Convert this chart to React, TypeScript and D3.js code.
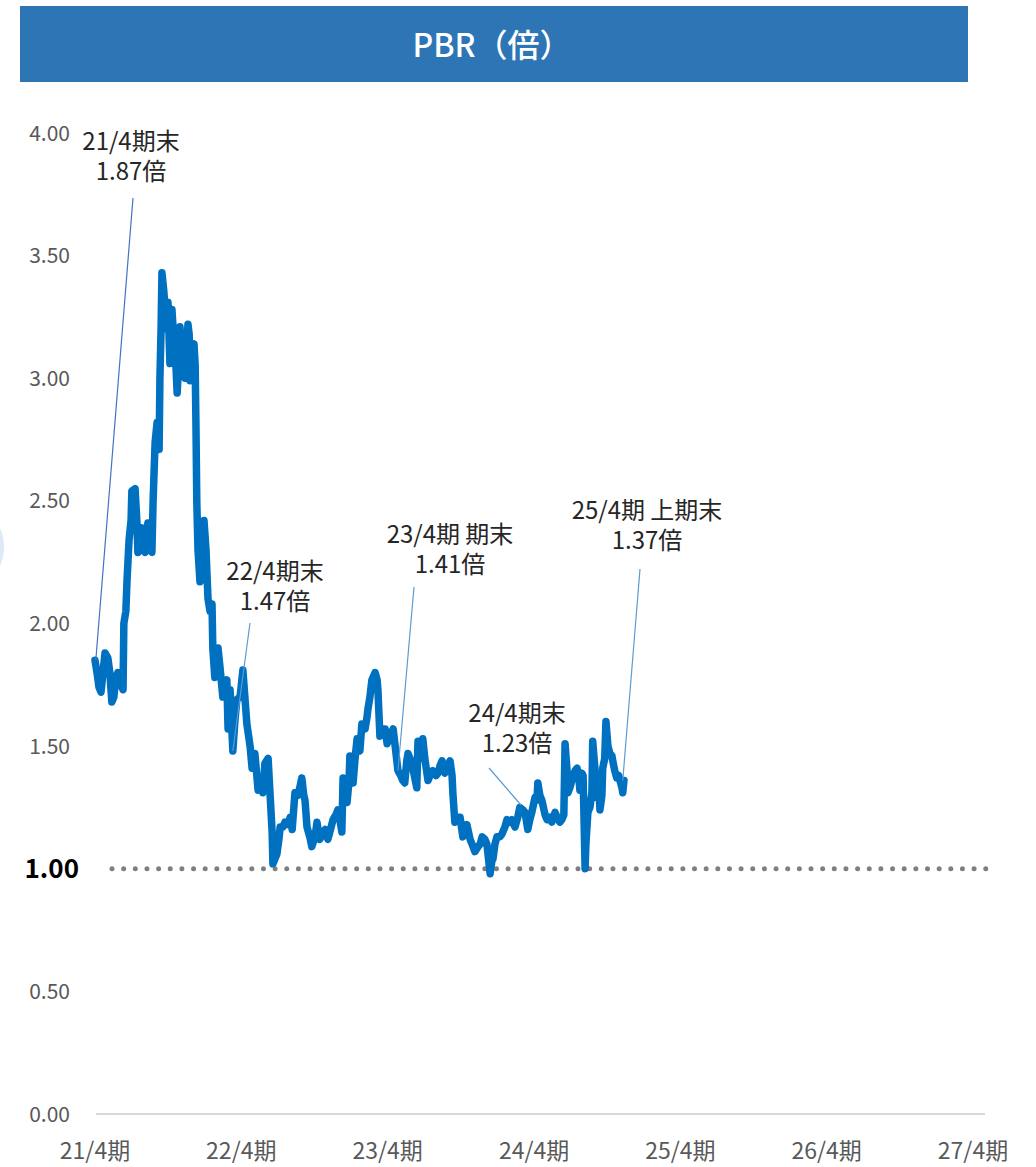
import React from "react";
import * as d3 from "d3";

// ---- data ----
const startDate = new Date(2021, 3, 30);
// days since end of 21/4期
const pbrDays = [
  0, 5, 10, 15, 20, 25, 32, 37, 42, 47, 52, 57, 65, 70, 72, 77, 80, 85, 90, 92, 100, 105, 107, 112, 117, 120, 125, 130, 132, 137, 142, 145, 150, 155, 160, 162, 165, 167, 172, 175, 180, 182, 187, 192, 197, 202, 205, 210, 212, 217, 220, 225, 232, 235, 237, 242, 247, 250, 252, 254, 257, 262, 267, 272, 277, 282, 287, 292, 294, 299, 307, 312, 319, 324, 329, 332, 337, 344, 349, 354, 362, 369, 374, 379, 387, 392, 399, 407, 414, 419, 424, 432, 437, 442, 444, 449, 454, 459, 462, 469, 474, 482, 487, 492, 499, 506, 511, 516, 521, 524, 529, 536, 541, 549, 554, 559, 561, 569, 574, 581, 586, 594, 601, 606, 611, 616, 619, 624, 629, 634, 636, 641, 644, 649, 654, 661, 666, 674, 679, 681, 686, 691, 699, 704, 706, 711, 716, 724, 729, 736, 744, 749, 756, 763, 768, 773, 778, 781, 786, 791, 798, 803, 806, 811, 816, 818, 823, 831, 836, 843, 851, 856, 861, 866, 871, 873, 878, 886, 891, 893, 898, 906, 911, 918, 923, 928, 936, 941, 948, 956, 961, 966, 973, 978, 986, 991, 993, 998, 1003, 1010, 1015, 1023, 1028, 1035, 1040, 1048, 1055, 1060, 1068, 1073, 1080, 1085, 1090, 1098, 1103, 1105, 1110, 1115, 1123, 1128, 1135, 1140, 1148, 1153, 1160, 1165, 1170, 1173, 1178, 1180, 1185, 1190, 1198, 1203, 1208, 1210, 1215, 1218, 1223, 1225, 1230, 1235, 1240, 1242, 1248, 1252, 1257, 1260, 1265, 1267, 1272, 1275, 1280, 1285, 1290, 1292, 1297, 1302, 1307, 1310, 1315, 1317, 1320,
];
const pbrValues = [
  1.85, 1.80, 1.74, 1.72, 1.80, 1.88, 1.86, 1.80, 1.68, 1.70, 1.78, 1.80, 1.75, 1.73, 2.00, 2.05, 2.18, 2.34, 2.42, 2.54, 2.55, 2.40, 2.29, 2.35, 2.39, 2.30, 2.29, 2.38, 2.41, 2.32, 2.29, 2.50, 2.74, 2.82, 2.71, 3.00, 3.21, 3.43, 3.35, 3.28, 3.20, 3.31, 3.06, 3.28, 3.15, 3.05, 2.94, 3.10, 3.21, 3.10, 3.06, 3.00, 3.22, 3.18, 2.99, 3.10, 3.14, 3.05, 2.80, 2.50, 2.30, 2.17, 2.30, 2.42, 2.30, 2.10, 2.05, 2.08, 1.90, 1.78, 1.90, 1.82, 1.70, 1.75, 1.77, 1.57, 1.73, 1.48, 1.60, 1.69, 1.70, 1.81, 1.70, 1.59, 1.50, 1.41, 1.47, 1.32, 1.36, 1.31, 1.43, 1.45, 1.30, 1.15, 1.02, 1.04, 1.06, 1.12, 1.17, 1.17, 1.19, 1.18, 1.21, 1.16, 1.31, 1.30, 1.33, 1.37, 1.30, 1.28, 1.17, 1.13, 1.09, 1.13, 1.19, 1.13, 1.12, 1.15, 1.16, 1.12, 1.15, 1.20, 1.22, 1.24, 1.20, 1.15, 1.37, 1.32, 1.27, 1.36, 1.46, 1.40, 1.35, 1.45, 1.53, 1.48, 1.59, 1.57, 1.62, 1.65, 1.70, 1.77, 1.80, 1.77, 1.73, 1.54, 1.57, 1.57, 1.51, 1.54, 1.57, 1.50, 1.40, 1.38, 1.36, 1.35, 1.44, 1.47, 1.45, 1.43, 1.37, 1.33, 1.52, 1.45, 1.48, 1.53, 1.45, 1.36, 1.38, 1.40, 1.38, 1.39, 1.42, 1.44, 1.40, 1.39, 1.41, 1.44, 1.38, 1.31, 1.19, 1.21, 1.21, 1.13, 1.16, 1.18, 1.12, 1.10, 1.07, 1.09, 1.10, 1.13, 1.12, 1.10, 0.98, 1.04, 1.04, 1.10, 1.13, 1.13, 1.14, 1.17, 1.20, 1.19, 1.20, 1.17, 1.21, 1.25, 1.24, 1.23, 1.16, 1.20, 1.23, 1.29, 1.28, 1.35, 1.30, 1.28, 1.22, 1.20, 1.21, 1.19, 1.23, 1.21, 1.19, 1.20, 1.22, 1.51, 1.40, 1.31, 1.33, 1.36, 1.40, 1.41, 1.36, 1.32, 1.39, 1.38, 1.00, 1.10, 1.23, 1.25, 1.31, 1.52, 1.40, 1.29, 1.35, 1.24, 1.30, 1.41, 1.45, 1.60, 1.50, 1.47, 1.46, 1.44, 1.40, 1.37, 1.38, 1.36, 1.33, 1.31, 1.36,
];

const yTicks = [0, 0.5, 1, 1.5, 2, 2.5, 3, 3.5, 4];
const xTickLabels = ["21/4期", "22/4期", "23/4期", "24/4期", "25/4期", "26/4期", "27/4期"];
const refValue = 1.0;

const annLine1 = ["21/4期末", "22/4期末", "23/4期 期末", "24/4期末", "25/4期 上期末"];
const annLine2 = ["1.87倍", "1.47倍", "1.41倍", "1.23倍", "1.37倍"];
const annDays = [2, 344, 756, 1063, 1317];
const annValues = [1.85, 1.48, 1.40, 1.26, 1.36];

// ---- layout (pixels) ----
const W = 1036;
const H = 1167;
const annLayout = [
  { cx: 131, by: 150, lx: 133, ly: 198, color: "#4472C4" },
  { cx: 275, by: 580, lx: 250, ly: 623, color: "#5B9BD5" },
  { cx: 450, by: 543, lx: 414, ly: 587, color: "#5B9BD5" },
  { cx: 517, by: 722, lx: 489, ly: 768, color: "#5B9BD5" },
  { cx: 647, by: 519, lx: 640, ly: 569, color: "#5B9BD5" },
];

const JP = '"Noto Sans CJK JP", "Noto Sans", sans-serif';

export default function App() {
  const addDays = (d: number) => new Date(startDate.getTime() + d * 86400000);
  const x = d3
    .scaleTime()
    .domain([startDate, new Date(2027, 3, 30)])
    .range([95, 973]);
  const y = d3.scaleLinear().domain([0, 4]).range([1114, 133]);

  const pts = pbrDays.map((d, i) => [x(addDays(d)), y(pbrValues[i])] as [number, number]);
  const line = d3.line<[number, number]>().x((p) => p[0]).y((p) => p[1]);
  const tickDates = xTickLabels.map((_, i) => new Date(2021 + i, 3, 30));

  return (
    <svg
      width={W}
      height={H}
      style={{ position: "absolute", left: 0, top: 0, background: "#fff" }}
      fontFamily={JP}
    >
      {/* title */}
      <rect x={20} y={6} width={948} height={76} fill="#2E75B6" />
      <text x={492} y={57} textAnchor="middle" fill="#fff" fontSize={32} fontWeight={500}>
        PBR（倍）
      </text>

      {/* faint edge mark */}
      <ellipse cx={-7} cy={547} rx={11} ry={24} fill="#DCE9F6" />

      {/* y tick labels */}
      {yTicks.map((t) =>
        t === refValue ? (
          <text key={t} x={79} y={y(t)} dy="0.36em" textAnchor="end" fontSize={26} fontWeight={700} fill="#000">
            {t.toFixed(2)}
          </text>
        ) : (
          <text key={t} x={70} y={y(t)} dy="0.36em" textAnchor="end" fontSize={21} fill="#595959">
            {t.toFixed(2)}
          </text>
        )
      )}

      {/* x labels */}
      {tickDates.map((d, i) => (
        <text key={i} x={x(d)} y={1159} textAnchor="middle" fontSize={23} fill="#595959">
          {xTickLabels[i]}
        </text>
      ))}

      {/* baseline */}
      <line x1={96} x2={985} y1={y(0)} y2={y(0)} stroke="#D9D9D9" strokeWidth={2} />

      {/* 1.00 dotted reference */}
      <line
        x1={112}
        x2={986}
        y1={y(refValue)}
        y2={y(refValue)}
        stroke="#7F7F7F"
        strokeWidth={5}
        strokeLinecap="round"
        strokeDasharray="0 11.65"
      />

      {/* main series */}
      <path
        d={line(pts) || ""}
        fill="none"
        stroke="#0070C0"
        strokeWidth={7.5}
        strokeLinejoin="round"
        strokeLinecap="round"
      />

      {/* annotations */}
      {annLayout.map((a, i) => (
        <g key={i}>
          <line
            x1={a.lx}
            y1={a.ly}
            x2={x(addDays(annDays[i]))}
            y2={y(annValues[i])}
            stroke={a.color}
            strokeWidth={1.2}
          />
          <text x={a.cx} y={a.by} textAnchor="middle" fontSize={24} fill="#262626">
            {annLine1[i]}
          </text>
          <text x={a.cx} y={a.by + 30} textAnchor="middle" fontSize={24} fill="#262626">
            {annLine2[i]}
          </text>
        </g>
      ))}
    </svg>
  );
}
